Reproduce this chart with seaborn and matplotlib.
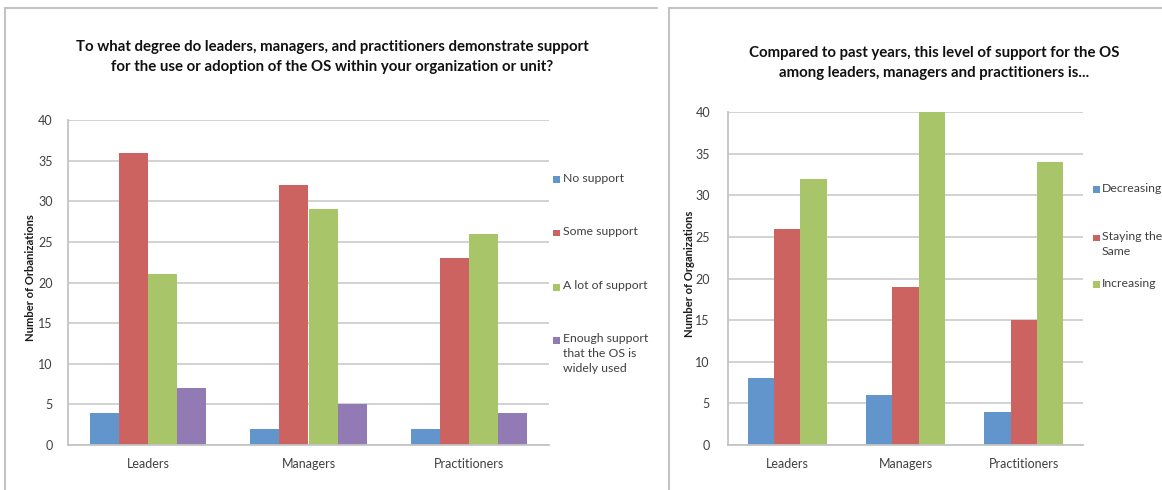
import pandas as pd
import seaborn as sns
import matplotlib.pyplot as plt
from matplotlib.lines import Line2D
from matplotlib.patches import Rectangle

# ---- data -------------------------------------------------------------
roles = ["Leaders", "Managers", "Practitioners"]

support_levels = ["No support", "Some support", "A lot of support",
                  "Enough support\nthat the OS is\nwidely used"]
no_support = [4, 2, 2]
some_support = [36, 32, 23]
lot_of_support = [21, 29, 26]
widely_used = [7, 5, 4]

trend_levels = ["Decreasing", "Staying the\nSame", "Increasing"]
decreasing = [8, 6, 4]
staying_same = [26, 19, 15]
increasing = [32, 40, 34]

y_ticks = [0, 5, 10, 15, 20, 25, 30, 35, 40]

left_title = ("To what degree do leaders, managers, and practitioners demonstrate support\n"
              "for the use or adoption of the OS within your organization or unit?")
right_title = ("Compared to past years, this level of support for the OS\n"
               "among leaders, managers and practitioners is...")

colors = ["#6195CB", "#CC6360", "#A9C56A", "#927AB5"]


def long_form(levels, series):
    rows = []
    for level, values in zip(levels, series):
        for role, v in zip(roles, values):
            rows.append({"role": role, "level": level, "count": v})
    return pd.DataFrame(rows)


support_df = long_form(support_levels, [no_support, some_support, lot_of_support, widely_used])
trend_df = long_form(trend_levels, [decreasing, staying_same, increasing])

# ---- style ------------------------------------------------------------
sns.set_style("white")
plt.rcParams["font.family"] = ["Lato", "DejaVu Sans"]

W, H = 1162, 490
fig = plt.figure(figsize=(W / 100, H / 100), dpi=100)


def fx(px):
    return px / W


def fy(py):
    return 1 - py / H


tick_color = "#404040"
grid_color = "#CFCFCF"
frame_color = "#C4C4C4"


def draw_panel(rect, df, levels, ylabel, ytick_pad, width, label_x):
    ax = fig.add_axes(rect)
    sns.barplot(data=df, x="role", y="count", hue="level", hue_order=levels,
                order=roles, palette=colors[:len(levels)], saturation=1,
                width=width, linewidth=0, legend=False, ax=ax)
    ax.set_ylim(0, 40)
    ax.set_yticks(y_ticks)
    ax.set_xlim(-0.5, len(roles) - 0.5)
    ax.set_axisbelow(True)
    ax.yaxis.grid(True, color=grid_color, linewidth=1.3)
    ax.xaxis.grid(False)
    for side in ("top", "right"):
        ax.spines[side].set_visible(False)
    for side in ("left", "bottom"):
        ax.spines[side].set_color(frame_color)
        ax.spines[side].set_linewidth(1.3)
    ax.tick_params(axis="y", length=0, pad=ytick_pad, labelsize=9, labelcolor=tick_color)
    ax.tick_params(axis="x", length=0, pad=9, labelsize=9, labelcolor=tick_color)
    ax.set_xlabel("")
    ax.set_ylabel(ylabel, fontsize=8.1, fontweight="bold", color="#1a1a1a")
    ax.yaxis.set_label_coords(label_x, 0.515)
    return ax


def draw_legend(levels, marker_x, text_x, row_ys):
    for level, color, y in zip(levels, colors, row_ys):
        fig.patches.append(Rectangle((fx(marker_x), fy(y + 3.5)), 7 / W, 7 / H,
                                     transform=fig.transFigure, facecolor=color,
                                     edgecolor="none"))
        fig.text(fx(text_x), fy(y - 7), level, ha="left", va="top",
                 fontsize=8.8, color=tick_color, linespacing=1.45)


# left panel
draw_panel([fx(68), fy(445), fx(549) - fx(68), fy(120) - fy(445)],
           support_df, support_levels, "Number of Orbanizations", 11, 0.725,
           (36 - 68) / 481)
fig.text(fx(332), fy(57), left_title, ha="center", va="center",
         fontsize=10.8, fontweight="bold", color="#111111", linespacing=1.6)
draw_legend(support_levels, 553, 563, [180, 233, 287, 340])

# right panel
draw_panel([fx(728), fy(445), fx(1083) - fx(728), fy(112) - fy(445)],
           trend_df, trend_levels, "Number of Organizations", 13, 0.67,
           (695 - 728) / 355)
fig.text(fx(934), fy(63), right_title, ha="center", va="center",
         fontsize=10.8, fontweight="bold", color="#111111", linespacing=1.6)
draw_legend(trend_levels, 1093, 1102, [190, 238, 285])

# panel frames
for x0, x1 in ((5, 657), (669, 1162)):
    fig.add_artist(Line2D([fx(x0), fx(x1)], [fy(8), fy(8)], transform=fig.transFigure,
                          color=frame_color, linewidth=1.5))
    fig.add_artist(Line2D([fx(x0), fx(x0)], [fy(8), fy(490)], transform=fig.transFigure,
                          color=frame_color, linewidth=1.5))

fig.savefig("out.png", dpi=100)
